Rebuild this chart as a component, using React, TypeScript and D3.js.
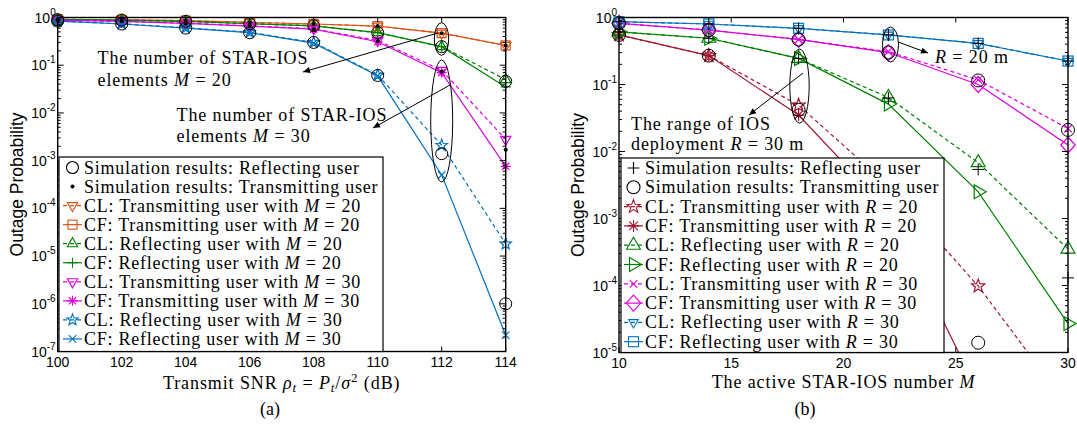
import React from 'react';
import * as d3 from 'd3';

// ---------- Data: panel (a) ----------
const snrDb = [100, 102, 104, 106, 108, 110, 112, 114];
const clTransM20 = [0.92, 0.89, 0.86, 0.79, 0.73, 0.66, 0.47, 0.26];
const cfTransM20 = [0.92, 0.89, 0.86, 0.79, 0.73, 0.66, 0.47, 0.26];
const clReflM20 = [0.9, 0.88, 0.83, 0.74, 0.67, 0.48, 0.245, 0.05];
const cfReflM20 = [0.9, 0.88, 0.83, 0.74, 0.67, 0.48, 0.245, 0.035];
const clTransM30 = [0.88, 0.83, 0.76, 0.67, 0.58, 0.33, 0.078, 0.0028];
const cfTransM30 = [0.88, 0.83, 0.75, 0.66, 0.57, 0.31, 0.07, 0.00076];
const clReflM30 = [0.84, 0.74, 0.61, 0.49, 0.3, 0.062, 0.0021, 1.8e-5];
const cfReflM30 = [0.84, 0.73, 0.6, 0.48, 0.29, 0.06, 0.0005, 2.2e-7];
const simReflM20 = [0.9, 0.88, 0.83, 0.74, 0.67, 0.48, 0.245, 0.046];
const simReflM30 = [0.84, 0.73, 0.6, 0.48, 0.3, 0.061, 0.0014, 1e-6];
const simTransM20 = [0.92, 0.89, 0.86, 0.79, 0.73, 0.66, 0.47, 0.26];
const simTransM30 = [0.88, 0.83, 0.75, 0.67, 0.57, 0.32, 0.074, 0.0017];
const snrTicks = [100, 102, 104, 106, 108, 110, 112, 114];
const decadesA = [0, -1, -2, -3, -4, -5, -6, -7];

// ---------- Data: panel (b) ----------
const mElems = [10, 14, 18, 22, 26, 30];
const clTransR20 = [0.55, 0.27, 0.049, 0.0031, 9.8e-5, 1.6e-6];
const cfTransR20 = [0.55, 0.27, 0.035, 0.0013, 2.6e-6, 5e-9];
const clReflR20 = [0.61, 0.49, 0.245, 0.064, 0.0068, 3.5e-4];
const cfReflR20 = [0.61, 0.49, 0.245, 0.051, 0.0025, 2.7e-5];
const clTransR30 = [0.82, 0.65, 0.47, 0.31, 0.117, 0.022];
const cfTransR30 = [0.82, 0.65, 0.47, 0.3, 0.1, 0.0125];
const clReflR30 = [0.865, 0.8, 0.69, 0.55, 0.41, 0.224];
const cfReflR30 = [0.865, 0.8, 0.69, 0.55, 0.41, 0.224];
const simReflR20 = [0.61, 0.49, 0.245, 0.063, 0.0054, 1.3e-4];
const simReflR30 = [0.865, 0.8, 0.69, 0.55, 0.41, 0.224];
const simTransR20 = [0.55, 0.27, 0.042, 0.0021, 1.4e-5, null];
const simTransR30 = [0.82, 0.65, 0.47, 0.3, 0.115, 0.021];
const mTicks = [10, 15, 20, 25, 30];
const decadesB = [0, -1, -2, -3, -4, -5];

const C = {
  orange: '#D95319',
  green: '#008000',
  magenta: '#DD00DD',
  blue: '#0072BD',
  red: '#A2142F',
  black: '#000000',
};

const serif = '"Liberation Serif", "Times New Roman", serif';
const sans = '"Liberation Sans", Arial, sans-serif';
const EQ = ' = ';

function marker(type: string, x: number, y: number, h: number, color: string, key: string, sw = 1) {
  const common = { fill: 'none', stroke: color, strokeWidth: sw } as any;
  switch (type) {
    case 'o':
      return <circle key={key} cx={x} cy={y} r={h} {...common} />;
    case '.':
      return <circle key={key} cx={x} cy={y} r={h} fill={color} />;
    case 'v':
      return <path key={key} d={`M${x - 0.866 * h},${y - 0.5 * h}L${x + 0.866 * h},${y - 0.5 * h}L${x},${y + h}Z`} {...common} />;
    case '^':
      return <path key={key} d={`M${x - 0.866 * h},${y + 0.5 * h}L${x + 0.866 * h},${y + 0.5 * h}L${x},${y - h}Z`} {...common} />;
    case '>':
      return <path key={key} d={`M${x + h},${y}L${x - 0.5 * h},${y - 0.866 * h}L${x - 0.5 * h},${y + 0.866 * h}Z`} {...common} />;
    case 's':
      return <rect key={key} x={x - h} y={y - h} width={2 * h} height={2 * h} {...common} />;
    case 'd':
      return <path key={key} d={`M${x},${y - h}L${x + h * 0.9},${y}L${x},${y + h}L${x - h * 0.9},${y}Z`} {...common} />;
    case '+':
      return <path key={key} d={`M${x - h},${y}H${x + h}M${x},${y - h}V${y + h}`} {...common} />;
    case 'x': {
      const a = h * 0.75;
      return <path key={key} d={`M${x - a},${y - a}L${x + a},${y + a}M${x - a},${y + a}L${x + a},${y - a}`} {...common} />;
    }
    case '*': {
      const a = h * 0.72;
      return (
        <path
          key={key}
          d={`M${x - h},${y}H${x + h}M${x},${y - h}V${y + h}M${x - a},${y - a}L${x + a},${y + a}M${x - a},${y + a}L${x + a},${y - a}`}
          {...common}
        />
      );
    }
    case 'p': {
      const pts: string[] = [];
      for (let i = 0; i < 10; i++) {
        const r = i % 2 === 0 ? h : h * 0.42;
        const ang = -Math.PI / 2 + (i * Math.PI) / 5;
        pts.push(`${x + r * Math.cos(ang)},${y + r * Math.sin(ang)}`);
      }
      return <path key={key} d={`M${pts.join('L')}Z`} {...common} />;
    }
  }
  return null;
}

type Series = { xs: number[]; ys: (number | null)[]; color: string; dash: boolean; mk: string; h: number };

function logTicks(decs: number[]) {
  const out: { v: number; major: boolean }[] = [];
  const lo = Math.min(...decs);
  const hi = Math.max(...decs);
  for (let k = lo; k <= hi; k++) {
    out.push({ v: Math.pow(10, k), major: true });
    if (k < hi) for (let m = 2; m <= 9; m++) out.push({ v: m * Math.pow(10, k), major: false });
  }
  return out;
}

function Panel(props: {
  id: string;
  x: d3.ScaleLinear<number, number>;
  y: d3.ScaleLogarithmic<number, number>;
  xTicks: number[];
  decs: number[];
  series: Series[];
  sims: Series[];
  lw: number;
}) {
  const { id, x, y, xTicks, decs, series, sims, lw } = props;
  const [x0, x1] = x.range();
  const [y1, y0] = y.range();
  const [ymin] = y.domain();
  const line = d3
    .line<[number, number | null]>()
    .defined((d) => d[1] != null)
    .x((d) => x(d[0]))
    .y((d) => y(d[1] as number));
  const lt = logTicks(decs);
  return (
    <g>
      <defs>
        <clipPath id={id}>
          <rect x={x0} y={y0} width={x1 - x0} height={y1 - y0} />
        </clipPath>
      </defs>
      <rect x={x0} y={y0} width={x1 - x0} height={y1 - y0} fill="white" />
      <g clipPath={`url(#${id})`}>
        {series.map((s, i) => (
          <path
            key={'l' + i}
            d={line(s.xs.map((v, j) => [v, s.ys[j]] as [number, number | null])) || ''}
            fill="none"
            stroke={s.color}
            strokeWidth={lw}
            strokeDasharray={s.dash ? '4,3' : undefined}
          />
        ))}
      </g>
      {series.map((s, i) =>
        s.xs.map((v, j) => {
          const val = s.ys[j];
          if (val == null || val < ymin) return null;
          return marker(s.mk, x(v), y(val), s.h, s.color, `m${i}-${j}`, lw);
        })
      )}
      {sims.map((s, i) =>
        s.xs.map((v, j) => {
          const val = s.ys[j];
          if (val == null || val < ymin) return null;
          return marker(s.mk, x(v), y(val), s.h, s.color, `s${i}-${j}`, 1);
        })
      )}
      {xTicks.map((t) => (
        <g key={'xt' + t}>
          <line x1={x(t)} x2={x(t)} y1={y1} y2={y1 - 5} stroke="black" strokeWidth={1} />
          <line x1={x(t)} x2={x(t)} y1={y0} y2={y0 + 5} stroke="black" strokeWidth={1} />
          <text x={x(t)} y={y1 + 15.5} textAnchor="middle" fontFamily={sans} fontSize={14}>
            {t}
          </text>
        </g>
      ))}
      {lt.map((t, i) => {
        const yy = y(t.v);
        const L = t.major ? 6 : 3;
        return (
          <g key={'yt' + i}>
            <line x1={x0} x2={x0 + L} y1={yy} y2={yy} stroke="black" strokeWidth={1} />
            <line x1={x1} x2={x1 - L} y1={yy} y2={yy} stroke="black" strokeWidth={1} />
          </g>
        );
      })}
      {decs.map((k) => (
        <text key={'yl' + k} x={x0 - 2} y={y(Math.pow(10, k)) + 5} textAnchor="end" fontFamily={sans} fontSize={14}>
          10
          <tspan dy={-7} fontSize={10}>
            {k}
          </tspan>
        </text>
      ))}
      <rect x={x0} y={y0} width={x1 - x0} height={y1 - y0} fill="none" stroke="black" strokeWidth={1.4} />
    </g>
  );
}

function Legend(props: {
  x: number;
  y: number;
  w: number;
  h: number;
  rowY0: number;
  dy: number;
  lineX0: number;
  lineX1: number;
  textX: number;
  rows: { mk: string; color: string; line: string | null; hs: number; label: React.ReactNode }[];
}) {
  const { x, y, w, h, rowY0, dy, lineX0, lineX1, textX, rows } = props;
  const mx = (lineX0 + lineX1) / 2;
  return (
    <g>
      <rect x={x} y={y} width={w} height={h} fill="white" stroke="black" strokeWidth={1.2} />
      {rows.map((r, i) => {
        const yy = rowY0 + i * dy;
        return (
          <g key={i}>
            {r.line && (
              <line
                x1={lineX0}
                x2={lineX1}
                y1={yy}
                y2={yy}
                stroke={r.color}
                strokeWidth={1.2}
                strokeDasharray={r.line === 'dash' ? '4,3' : undefined}
              />
            )}
            {marker(r.mk, mx, yy, r.hs, r.color, 'lm' + i, 1.1)}
            <text
              x={textX}
              y={yy + 6}
              fontFamily={serif}
              fontSize={18}
              style={{ whiteSpace: 'pre', letterSpacing: '0.75px' }}
            >
              {r.label}
            </text>
          </g>
        );
      })}
    </g>
  );
}

const It = (p: { children: React.ReactNode }) => <tspan fontStyle="italic">{p.children}</tspan>;

export default function App() {
  const xA = d3.scaleLinear().domain([100, 114]).range([57.7, 505.7]);
  const yA = d3.scaleLog().domain([1e-7, 1]).range([351.5, 17.5]);
  const xB = d3.scaleLinear().domain([10, 30]).range([619, 1068]);
  const yB = d3.scaleLog().domain([1e-5, 1]).range([352.5, 17.5]);

  const seriesA: Series[] = [
    { xs: snrDb, ys: cfTransM20, color: C.orange, dash: false, mk: 's', h: 4.5 },
    { xs: snrDb, ys: clTransM20, color: C.orange, dash: true, mk: 'v', h: 6 },
    { xs: snrDb, ys: cfReflM20, color: C.green, dash: false, mk: '+', h: 5 },
    { xs: snrDb, ys: clReflM20, color: C.green, dash: true, mk: '^', h: 6 },
    { xs: snrDb, ys: cfTransM30, color: C.magenta, dash: false, mk: '*', h: 5 },
    { xs: snrDb, ys: clTransM30, color: C.magenta, dash: true, mk: 'v', h: 6 },
    { xs: snrDb, ys: cfReflM30, color: C.blue, dash: false, mk: 'x', h: 5 },
    { xs: snrDb, ys: clReflM30, color: C.blue, dash: true, mk: 'p', h: 6 },
  ];
  const simsA: Series[] = [
    { xs: snrDb, ys: simReflM20, color: C.black, dash: false, mk: 'o', h: 6 },
    { xs: snrDb, ys: simReflM30, color: C.black, dash: false, mk: 'o', h: 6 },
    { xs: snrDb, ys: simTransM20, color: C.black, dash: false, mk: '.', h: 2 },
    { xs: snrDb, ys: simTransM30, color: C.black, dash: false, mk: '.', h: 2 },
  ];
  const seriesB: Series[] = [
    { xs: mElems, ys: cfTransR20, color: C.red, dash: false, mk: '*', h: 6 },
    { xs: mElems, ys: clTransR20, color: C.red, dash: true, mk: 'p', h: 7 },
    { xs: mElems, ys: cfReflR20, color: C.green, dash: false, mk: '>', h: 8 },
    { xs: mElems, ys: clReflR20, color: C.green, dash: true, mk: '^', h: 8 },
    { xs: mElems, ys: cfTransR30, color: C.magenta, dash: false, mk: 'd', h: 8 },
    { xs: mElems, ys: clTransR30, color: C.magenta, dash: true, mk: 'x', h: 5 },
    { xs: mElems, ys: cfReflR30, color: C.blue, dash: false, mk: 's', h: 5 },
    { xs: mElems, ys: clReflR30, color: C.blue, dash: true, mk: 'v', h: 5.5 },
  ];
  const simsB: Series[] = [
    { xs: mElems, ys: simTransR20, color: C.black, dash: false, mk: 'o', h: 6.5 },
    { xs: mElems, ys: simTransR30, color: C.black, dash: false, mk: 'o', h: 6.5 },
    { xs: mElems, ys: simReflR20, color: C.black, dash: false, mk: '+', h: 6 },
    { xs: mElems, ys: simReflR30, color: C.black, dash: false, mk: '+', h: 6 },
  ];

  const rowsA = [
    { mk: 'o', color: C.black, line: null, hs: 6, label: <>Simulation results: Reflecting user</> },
    { mk: '.', color: C.black, line: null, hs: 2, label: <>Simulation results: Transmitting user</> },
    { mk: 'v', color: C.orange, line: 'dash', hs: 6, label: <>CL: Transmitting user with <It>M</It>{EQ}20</> },
    { mk: 's', color: C.orange, line: 'solid', hs: 4.5, label: <>CF: Transmitting user with <It>M</It>{EQ}20</> },
    { mk: '^', color: C.green, line: 'dash', hs: 6, label: <>CL: Reflecting user with <It>M</It>{EQ}20</> },
    { mk: '+', color: C.green, line: 'solid', hs: 5, label: <>CF: Reflecting user with <It>M</It>{EQ}20</> },
    { mk: 'v', color: C.magenta, line: 'dash', hs: 6, label: <>CL: Transmitting user with <It>M</It>{EQ}30</> },
    { mk: '*', color: C.magenta, line: 'solid', hs: 5, label: <>CF: Transmitting user with <It>M</It>{EQ}30</> },
    { mk: 'p', color: C.blue, line: 'dash', hs: 6, label: <>CL: Reflecting user with <It>M</It>{EQ}30</> },
    { mk: 'x', color: C.blue, line: 'solid', hs: 5, label: <>CF: Reflecting user with <It>M</It>{EQ}30</> },
  ];
  const rowsB = [
    { mk: '+', color: C.black, line: null, hs: 6, label: <>Simulation results: Reflecting user</> },
    { mk: 'o', color: C.black, line: null, hs: 6.5, label: <>Simulation results: Transmitting user</> },
    { mk: 'p', color: C.red, line: 'dash', hs: 7, label: <>CL: Transmitting user with <It>R</It>{EQ}20</> },
    { mk: '*', color: C.red, line: 'solid', hs: 6, label: <>CF: Transmitting user with <It>R</It>{EQ}20</> },
    { mk: '^', color: C.green, line: 'dash', hs: 8, label: <>CL: Reflecting user with <It>R</It>{EQ}20</> },
    { mk: '>', color: C.green, line: 'solid', hs: 8, label: <>CF: Reflecting user with <It>R</It>{EQ}20</> },
    { mk: 'x', color: C.magenta, line: 'dash', hs: 5, label: <>CL: Transmitting user with <It>R</It>{EQ}30</> },
    { mk: 'd', color: C.magenta, line: 'solid', hs: 8, label: <>CF: Transmitting user with <It>R</It>{EQ}30</> },
    { mk: 'v', color: C.blue, line: 'dash', hs: 5.5, label: <>CL: Reflecting user with <It>R</It>{EQ}30</> },
    { mk: 's', color: C.blue, line: 'solid', hs: 5, label: <>CF: Reflecting user with <It>R</It>{EQ}30</> },
  ];

  const annStyle = { whiteSpace: 'pre' as const, letterSpacing: '0.9px' };

  return (
    <svg
      width={1077}
      height={434}
      style={{ position: 'absolute', left: 0, top: 0, background: 'white' }}
      xmlns="http://www.w3.org/2000/svg"
    >
      <defs>
        <marker id="ah" viewBox="0 0 10 10" refX="10" refY="5" markerWidth="9" markerHeight="7" orient="auto" markerUnits="userSpaceOnUse">
          <path d="M0,0.5 L10,5 L0,9.5 z" fill="black" />
        </marker>
      </defs>
      <rect x={0} y={0} width={1077} height={434} fill="white" />

      {/* Panel (a) */}
      <Panel id="clipA" x={xA} y={yA} xTicks={snrTicks} decs={decadesA} series={seriesA} sims={simsA} lw={1.2} />
      <ellipse cx={441.5} cy={39} rx={7.2} ry={16.3} fill="none" stroke="black" strokeWidth={1} />
      <ellipse cx={441.7} cy={121} rx={11} ry={61} fill="none" stroke="black" strokeWidth={1} />
      <line x1={438} y1={33} x2={303} y2={72} stroke="black" strokeWidth={1} markerEnd="url(#ah)" />
      <line x1={450} y1={85} x2={373} y2={128} stroke="black" strokeWidth={1} markerEnd="url(#ah)" />
      <text x={97.5} y={63.5} fontFamily={serif} fontSize={18} style={annStyle}>The number of STAR-IOS</text>
      <text x={97.5} y={86} fontFamily={serif} fontSize={18} style={annStyle}>
        elements <It>M</It>{EQ}20
      </text>
      <text x={176.5} y={121} fontFamily={serif} fontSize={18} style={annStyle}>The number of STAR-IOS</text>
      <text x={176.5} y={142} fontFamily={serif} fontSize={18} style={annStyle}>
        elements <It>M</It>{EQ}30
      </text>
      <Legend x={59} y={157} w={324} h={194.5} rowY0={167.5} dy={19.05} lineX0={63} lineX1={82} textX={84} rows={rowsA} />
      <text x={23} y={184.5} transform="rotate(-90 23 184.5)" textAnchor="middle" fontFamily={sans} fontSize={17.5}>
        Outage Probability
      </text>
      <text x={281.7} y={389} textAnchor="middle" fontFamily={serif} fontSize={18} style={annStyle}>
        Transmit SNR <It>ρ</It>
        <tspan fontSize={13} dy={3} fontStyle="italic">t</tspan>
        <tspan dy={-3}>{EQ}</tspan>
        <It>P</It>
        <tspan fontSize={13} dy={3} fontStyle="italic">t</tspan>
        <tspan dy={-3}>/</tspan>
        <It>σ</It>
        <tspan fontSize={13} dy={-7}>2</tspan>
        <tspan dy={7}> (dB)</tspan>
      </text>
      <text x={270} y={415} textAnchor="middle" fontFamily={serif} fontSize={18}>(a)</text>

      {/* Panel (b) */}
      <Panel id="clipB" x={xB} y={yB} xTicks={mTicks} decs={decadesB} series={seriesB} sims={simsB} lw={1.2} />
      <ellipse cx={799.5} cy={86} rx={9.7} ry={37} fill="none" stroke="black" strokeWidth={1} />
      <ellipse cx={890.5} cy={44.5} rx={8} ry={17.5} fill="none" stroke="black" strokeWidth={1} />
      <line x1={898} y1={42} x2={928} y2={53} stroke="black" strokeWidth={1} markerEnd="url(#ah)" />
      <line x1={803} y1={73} x2={749} y2={115} stroke="black" strokeWidth={1} markerEnd="url(#ah)" />
      <text x={935} y={63} fontFamily={serif} fontSize={18} style={annStyle}>
        <It>R</It>{EQ}20 m
      </text>
      <text x={631} y={130} fontFamily={serif} fontSize={18} style={annStyle}>The range of IOS</text>
      <text x={631} y={150} fontFamily={serif} fontSize={18} style={annStyle}>
        deployment <It>R</It>{EQ}30 m
      </text>
      <Legend x={621} y={158} w={323} h={194.5} rowY0={168} dy={19.3} lineX0={624} lineX1={643} textX={645} rows={rowsB} />
      <text x={584} y={185} transform="rotate(-90 584 185)" textAnchor="middle" fontFamily={sans} fontSize={17.5}>
        Outage Probability
      </text>
      <text x={843.5} y={388} textAnchor="middle" fontFamily={serif} fontSize={18} style={annStyle}>
        The active STAR-IOS number <It>M</It>
      </text>
      <text x={805} y={415} textAnchor="middle" fontFamily={serif} fontSize={18}>(b)</text>
    </svg>
  );
}
